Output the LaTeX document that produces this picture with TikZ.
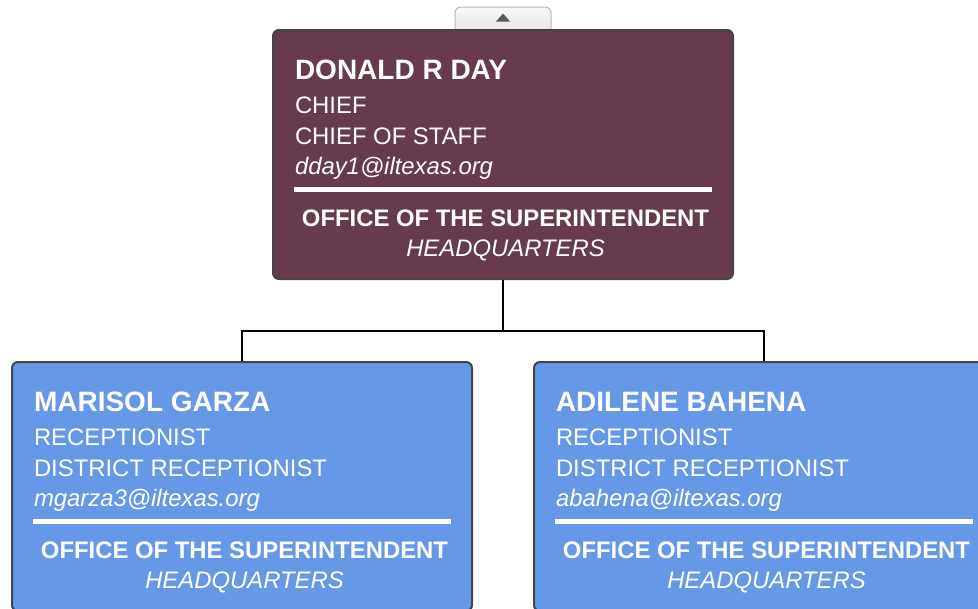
\documentclass[tikz,border=0pt]{standalone}
\usepackage{fontspec}
\setmainfont{Liberation Sans}

\definecolor{chiefbg}{RGB}{103,58,77}
\definecolor{staffbg}{RGB}{101,153,231}
\definecolor{cardedge}{RGB}{68,68,68}

\def\cardwidth{460}
\def\cardheight{249}

\begin{document}
\begin{tikzpicture}[x=0.75pt,y=-0.75pt,line width=1.5pt]
    \tikzstyle{card}=[rectangle,draw=cardedge,rounded corners=4.5pt,inner sep=0pt,
        minimum width=\cardwidth*0.75pt,minimum height=\cardheight*0.75pt]
    \tikzstyle{chief card}=[card,fill=chiefbg]
    \tikzstyle{staff card}=[card,fill=staffbg]
    \tikzstyle{tab}=[rectangle,draw=gray!55,line width=0.75pt,rounded corners=4.5pt,
        top color=gray!5,bottom color=gray!22,minimum width=96*0.75pt,minimum height=28*0.75pt]
    \tikzstyle{cardtext}=[text=white,inner sep=0pt,anchor=base west,font=\fontsize{17.9}{20}\selectfont]
    \tikzstyle{cardname}=[cardtext,font=\fontsize{21}{24}\selectfont\bfseries]
    \tikzstyle{cardmail}=[cardtext,font=\fontsize{17.9}{20}\selectfont\itshape]
    \tikzstyle{dept}=[cardtext,anchor=base,font=\fontsize{17.9}{20}\selectfont\bfseries]
    \tikzstyle{site}=[cardtext,anchor=base,font=\fontsize{17.9}{20}\selectfont\itshape]
    \tikzstyle{divider}=[white,line width=3.75pt]
    \tikzstyle{link}=[black,line width=1.5pt]

    \path[use as bounding box,clip] (0,0) rectangle (978,608);

    % Draw the collapse tab above the top card
    \node[tab] (collapse) at (503,21) {};
    \fill[black!65] ([shift={(0,-7.5)}]collapse.center) -- ([shift={(-7,0.5)}]collapse.center)
        -- ([shift={(7,0.5)}]collapse.center) -- cycle;

    % Draw the cards
    \node[chief card] (chief) at (503,154.5) {};
    \node[staff card] (garza) at (242,486.5) {};
    \node[staff card] (bahena) at (764,486.5) {};

    % Fill in every card
    \foreach \id/\name/\roleA/\roleB/\mail in {chief/DONALD R DAY/CHIEF/CHIEF OF STAFF/dday1,
        garza/MARISOL GARZA/RECEPTIONIST/DISTRICT RECEPTIONIST/mgarza3,
        bahena/ADILENE BAHENA/RECEPTIONIST/DISTRICT RECEPTIONIST/abahena}
    {
        \node[cardname] (\id-name) at ([shift={(22,50)}]\id.north west) {\name};
        \node[cardtext] (\id-roleA) at ([shift={(22,84)}]\id.north west) {\roleA};
        \node[cardtext] (\id-roleB) at ([shift={(22,115)}]\id.north west) {\roleB};
        \node[cardmail] (\id-mail) at ([shift={(22,145)}]\id.north west) {\mail @iltexas.org};
        \draw[divider] ([shift={(22,160)}]\id.north west) -- ([shift={(-22,160)}]\id.north east);
        \node[dept] (\id-dept) at ([shift={(2.5,197)}]\id.north) {OFFICE OF THE SUPERINTENDENT};
        \node[site] (\id-site) at ([shift={(2.5,227)}]\id.north) {HEADQUARTERS};
    }

    % Connect the chief with the staff below
    \coordinate (bus) at (503,331);
    \draw[link] (chief.south) -- (bus);
    \draw[link] (garza.north) |- (bus) -| (bahena.north);
\end{tikzpicture}
\end{document}
